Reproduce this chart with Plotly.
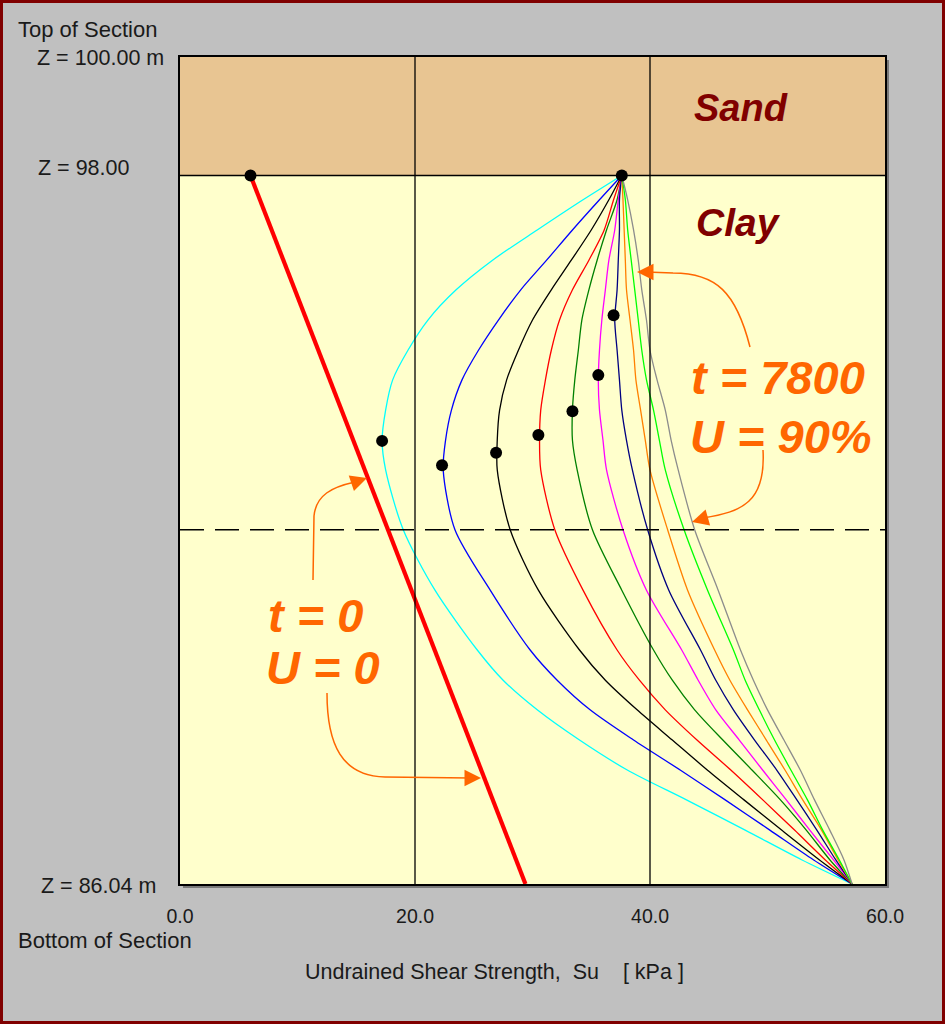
import plotly.graph_objects as go

# ---------------- data ----------------
Z_levels = [98.0, 97.59, 97.08, 96.57, 96.07, 95.56, 95.05, 94.55, 94.04, 93.53,
            93.03, 92.02, 91.0, 89.99, 89.48, 88.98, 88.47, 87.96, 87.46, 86.95,
            86.45, 86.04]

su_cyan    = [37.6, 34.3, 30.4, 26.6, 23.5, 21.1, 19.4, 18.1, 17.5, 17.2,
              17.5, 19.0, 21.7, 25.3, 27.5, 30.4, 34.0, 38.1, 43.1, 48.1,
              52.9, 57.2]
su_blue    = [37.6, 35.7, 33.4, 31.2, 29.0, 27.1, 25.4, 24.0, 23.1, 22.6,
              22.4, 23.4, 26.4, 29.8, 32.1, 34.9, 38.6, 42.6, 46.4, 50.2,
              53.9, 57.2]
su_black   = [37.6, 36.5, 35.0, 33.3, 31.6, 30.0, 28.8, 27.8, 27.2, 27.0,
              27.0, 28.1, 30.5, 34.0, 36.2, 38.9, 41.9, 44.9, 48.0, 51.2,
              54.4, 57.2]
su_red     = [37.6, 36.9, 36.1, 34.8, 33.4, 32.3, 31.6, 31.1, 30.7, 30.6,
              30.7, 31.9, 34.3, 37.2, 39.1, 41.3, 44.0, 46.9, 49.6, 52.3,
              54.9, 57.2]
su_dkgreen = [37.6, 37.2, 36.3, 35.5, 34.8, 34.2, 33.9, 33.6, 33.4, 33.4,
              33.8, 35.1, 37.6, 40.3, 41.9, 43.8, 46.2, 48.7, 51.1, 53.3,
              55.3, 57.2]
su_magenta = [37.6, 37.3, 37.0, 36.5, 36.2, 35.9, 35.7, 35.6, 35.7, 36.0,
              36.3, 37.7, 39.7, 42.7, 44.1, 45.6, 47.6, 49.6, 51.6, 53.6,
              55.6, 57.2]
su_navy    = [37.6, 37.4, 37.4, 37.3, 37.2, 37.0, 37.2, 37.4, 37.6, 38.0,
              38.5, 39.8, 41.6, 44.3, 45.6, 47.1, 48.9, 50.8, 52.5, 54.2,
              55.8, 57.2]
su_orange  = [37.6, 37.7, 37.8, 37.9, 38.0, 38.3, 38.6, 38.8, 39.2, 39.6,
              40.0, 41.5, 43.2, 45.5, 46.8, 48.3, 49.9, 51.5, 53.0, 54.6,
              56.0, 57.2]
su_lime    = [37.6, 37.9, 38.1, 38.4, 38.7, 39.0, 39.3, 39.7, 40.3, 40.8,
              41.3, 42.9, 44.9, 47.1, 48.1, 49.3, 50.6, 52.0, 53.4, 54.7,
              56.1, 57.2]
su_gray    = [37.6, 38.1, 38.6, 39.0, 39.3, 39.7, 40.0, 40.6, 41.3, 41.8,
              42.4, 43.8, 45.8, 47.7, 48.8, 50.0, 51.4, 52.8, 54.0, 55.3,
              56.5, 57.2]

isochrones = [
    ("cyan", su_cyan, "#00FFFF"),
    ("blue", su_blue, "#0000FF"),
    ("black", su_black, "#000000"),
    ("red", su_red, "#FF0000"),
    ("darkgreen", su_dkgreen, "#008000"),
    ("magenta", su_magenta, "#FF00FF"),
    ("navy", su_navy, "#000080"),
    ("orange", su_orange, "#FF8000"),
    ("lime", su_lime, "#00FF00"),
    ("gray", su_gray, "#8C8C8C"),
]

su_t0 = [6.0, 29.4]
z_t0 = [98.0, 86.04]

dot_su = [6.0, 37.6, 17.2, 22.3, 26.9, 30.5, 33.4, 35.6, 36.9]
dot_z  = [98.0, 98.0, 93.52, 93.11, 93.32, 93.62, 94.02, 94.63, 95.64]

z_top, z_sand_base, z_bottom, z_mid = 100.0, 98.0, 86.04, 92.02
x_ticks = [0, 20, 40, 60]
x_tick_text = ["0.0", "20.0", "40.0", "60.0"]

# ---------------- layout helpers ----------------
W, H = 945, 1024
L, R, T, B = 180, 885, 57, 884


def px(x):
    return (x - L) / (R - L)


def py(y):
    return (B - y) / (B - T)


ORANGE = "#FF6600"
FONT = "Liberation Sans, Arial, sans-serif"
TXT = "#1a1a1a"

fig = go.Figure()

for name, su, col in isochrones:
    fig.add_trace(go.Scatter(x=su, y=Z_levels, mode="lines", name=name,
                             line=dict(color=col, width=1.3, shape="spline", smoothing=0.8),
                             hoverinfo="skip"))

fig.add_trace(go.Scatter(x=su_t0, y=z_t0, mode="lines", name="t=0",
                         line=dict(color="#FF0000", width=4.2)))

fig.add_trace(go.Scatter(x=dot_su, y=dot_z, mode="markers", name="dots",
                         marker=dict(color="black", size=12)))

shapes = []
shapes.append(dict(type="rect", xref="x", yref="y", x0=0, x1=60, y0=z_sand_base, y1=z_top,
                   fillcolor="#E8C592", line=dict(width=0), layer="below"))
shapes.append(dict(type="line", xref="x", yref="y", x0=0, x1=60, y0=z_sand_base, y1=z_sand_base,
                   line=dict(color="black", width=1.3)))
for gx in [20, 40]:
    shapes.append(dict(type="line", xref="x", yref="y", x0=gx, x1=gx, y0=z_bottom, y1=z_top,
                       line=dict(color="black", width=1.3)))
shapes.append(dict(type="line", xref="x", yref="y", x0=0, x1=60, y0=z_mid, y1=z_mid,
                   line=dict(color="black", width=1.3, dash="24px,11px")))
# plot shadow
shapes.append(dict(type="rect", xref="paper", yref="paper", x0=px(R + 1), x1=px(R + 4),
                   y0=py(B + 3), y1=py(T + 3), fillcolor="#7A7A7A", line=dict(width=0), layer="below"))
shapes.append(dict(type="rect", xref="paper", yref="paper", x0=px(L + 3), x1=px(R + 4),
                   y0=py(B + 4), y1=py(B + 1), fillcolor="#7A7A7A", line=dict(width=0), layer="below"))
# outer dark red border
shapes.append(dict(type="rect", xref="paper", yref="paper", x0=px(1.5), x1=px(W - 1.5),
                   y0=py(H - 1.5), y1=py(1.5), line=dict(color="#800000", width=3)))


def curve(d):
    parts = []
    for tok in d.split():
        if "," in tok:
            a, b = tok.split(",")
            parts.append(f"{px(float(a)):.5f},{py(float(b)):.5f}")
        else:
            parts.append(tok)
    return " ".join(parts)


arrow_paths = [
    "M 750,347 C 736,292 716,273 673,273 L 646,272",
    "M 763,450 C 766,502 742,512 703,518",
    "M 313,580 L 314,516 C 316,495 332,487 355,482",
    "M 327,693 C 327,745 342,776 385,777 L 470,778",
]
for p in arrow_paths:
    shapes.append(dict(type="path", xref="paper", yref="paper", path=curve(p),
                       line=dict(color=ORANGE, width=1.5)))

annotations = []


def text(x, y, s, size, color=TXT, xanchor="left", bold=False, italic=False):
    if bold:
        s = f"<b>{s}</b>"
    if italic:
        s = f"<i>{s}</i>"
    annotations.append(dict(xref="paper", yref="paper", x=px(x), y=py(y), text=s,
                            showarrow=False, xanchor=xanchor, yanchor="middle",
                            font=dict(family=FONT, size=size, color=color)))


text(16, 29, "Top of Section", 22)
text(166, 58, "Z = 100.00 m", 21.5, xanchor="right")
text(131, 168, "Z = 98.00", 21.5, xanchor="right")
text(158, 886, "Z = 86.04 m", 21.5, xanchor="right")
text(16, 940, "Bottom of Section", 22)
text(494, 972, "Undrained Shear Strength,&nbsp; Su &nbsp;&nbsp; [ kPa ]", 21.5, xanchor="center")

text(741, 108, "Sand", 38, color="#800000", xanchor="center", bold=True, italic=True)
text(738, 222, "Clay", 39, color="#800000", xanchor="center", bold=True, italic=True)
text(778, 378, "t = 7800", 47, color=ORANGE, xanchor="center", bold=True, italic=True)
text(781, 436, "U = 90%", 47, color=ORANGE, xanchor="center", bold=True, italic=True)
text(315, 615, "t = 0", 47, color=ORANGE, xanchor="center", bold=True, italic=True)
text(323, 668, "U = 0", 47, color=ORANGE, xanchor="center", bold=True, italic=True)

heads = [((637, 272), (16, 0)), ((692, 522), (14, -4)), ((367, 478), (-15, 5)), ((481, 778), (-16, 0))]
for (tx, ty), (ax, ay) in heads:
    annotations.append(dict(xref="paper", yref="paper", x=px(tx), y=py(ty), ax=ax, ay=ay,
                            text="", showarrow=True, arrowhead=2, arrowsize=2.2,
                            arrowwidth=1.5, arrowcolor=ORANGE))

fig.update_layout(
    width=W, height=H,
    margin=dict(l=L, r=W - R, t=T, b=H - B, pad=0),
    paper_bgcolor="#C0C0C0",
    plot_bgcolor="#FFFFCC",
    showlegend=False,
    shapes=shapes,
    annotations=annotations,
    xaxis=dict(range=[0, 60], tickvals=x_ticks, ticktext=x_tick_text, showgrid=False,
               zeroline=False, showline=True, linecolor="black", linewidth=1.5, mirror=True,
               ticks="outside", ticklen=14, tickcolor="rgba(0,0,0,0)",
               tickfont=dict(family=FONT, size=19.5, color=TXT)),
    yaxis=dict(range=[z_bottom, z_top], showticklabels=False, showgrid=False, zeroline=False,
               showline=True, linecolor="black", linewidth=1.5, mirror=True, ticks=""),
)

fig.write_html("out.html", config={"displayModeBar": False},
               post_script="document.body.style.margin='0';document.body.style.overflow='hidden';")
